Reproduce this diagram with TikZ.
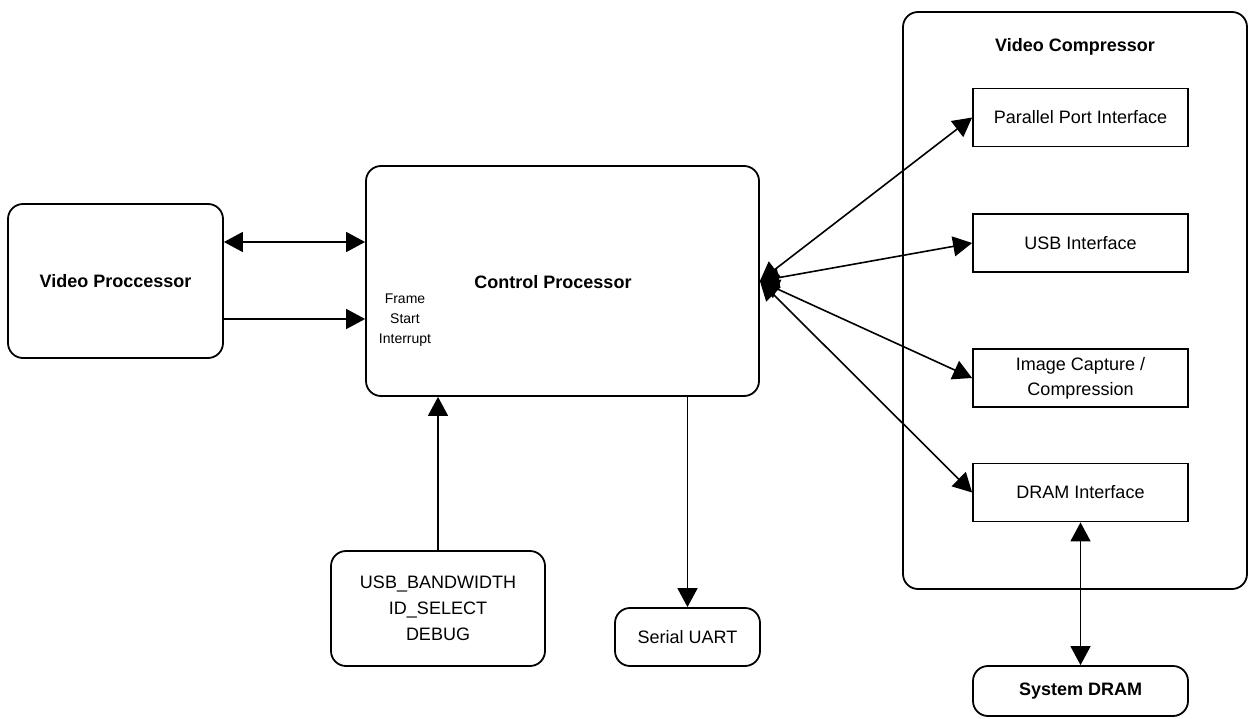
\documentclass[tikz,border=0pt]{standalone}
\usepackage{fontspec}
\setmainfont{Liberation Sans}
\usetikzlibrary{arrows.meta}
\tikzset{
  blk/.style={draw, line width=1.8pt, rounded corners=15pt, inner sep=0pt, align=center,
    font=\fontsize{18}{26}\selectfont},
  port/.style={draw, line width=1.8pt, inner sep=0pt, minimum width=215pt, minimum height=58pt,
    align=center, font=\fontsize{18}{25}\selectfont},
  link/.style={line width=1.6pt, -{Triangle[length=19pt,width=20pt]}},
  duplex/.style={line width=1.6pt, {Triangle[length=19pt,width=20pt]}-{Triangle[length=19pt,width=20pt]}}
}
\begin{document}
\begin{tikzpicture}[x=1pt,y=-1pt]
  \useasboundingbox (0,0) rectangle (1249,719);
  \path (115.5,281) node[blk, minimum width=215pt, minimum height=154pt, font=\fontsize{18}{26}\selectfont\bfseries] (vp) {Video Proccessor}
        (562.5,281) node[blk, minimum width=393pt, minimum height=230pt] (ctrl) {}
        (553,282)   node[font=\fontsize{18}{26}\selectfont\bfseries] (ctrlname) {Control Processor}
        (405,320)   node[align=center, inner sep=0pt, font=\fontsize{14}{20}\selectfont] (fsi) {Frame\\Start\\Interrupt}
        (1075,300.5) node[blk, minimum width=344pt, minimum height=577pt] (vcomp) {}
        (1075,47)   node[font=\fontsize{18}{26}\selectfont\bfseries] (vcompname) {Video Compressor}
        (1080.5,117.5) node[port] (pp) {Parallel Port Interface}
        (1080.5,243)   node[port] (usbif) {USB Interface}
        (1080.5,378)   node[port] (cap) {Image Capture /\\Compression}
        (1080.5,492.5) node[port] (dramif) {DRAM Interface}
        (1080.5,691)   node[blk, minimum width=215pt, minimum height=50pt, font=\fontsize{18}{26}\selectfont\bfseries] (sysdram) {System DRAM}
        (438,608.5)  node[blk, minimum width=214pt, minimum height=115pt] (cfg) {USB\_BANDWIDTH\\ID\_SELECT\\DEBUG}
        (687.5,637)  node[blk, minimum width=145pt, minimum height=58pt] (uart) {Serial UART};
  \draw[duplex] ([yshift=39pt]vp.east) -- ([yshift=39pt]ctrl.west);
  \draw[link] ([yshift=-38pt]vp.east) -- ([yshift=-38pt]ctrl.west);
  \draw[link] (cfg.north) -- (cfg.north |- ctrl.south);
  \draw[link] (ctrl.south -| uart.north) -- (uart.north);
  \foreach \p in {pp,usbif,cap,dramif}
    \draw[duplex] (ctrl.east) -- (\p.west);
  \draw[duplex] (dramif.south) -- (sysdram.north);
\end{tikzpicture}
\end{document}
